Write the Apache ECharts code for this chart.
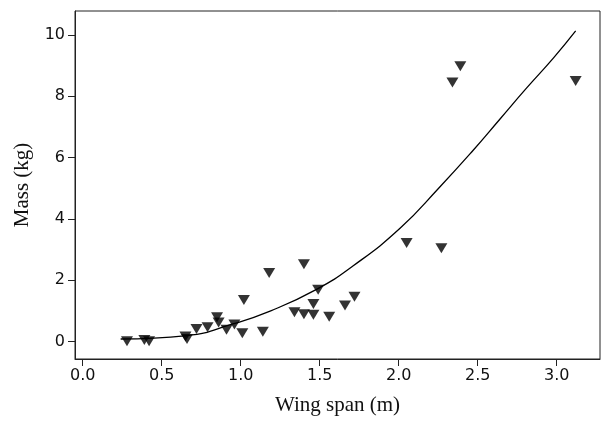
<!DOCTYPE html>
<html>
<head>
<meta charset="utf-8">
<script src="https://cdn.jsdelivr.net/npm/echarts@6/dist/echarts.min.js"></script>
<style>
  html, body { margin: 0; padding: 0; background: #fff; }
  #chart { width: 601px; height: 421px; }
</style>
</head>
<body>
<div id="chart"></div>
<script>
// 观测点
const wingSpan = [0.28, 0.39, 0.42, 0.65, 0.66, 0.72, 0.79, 0.85, 0.86, 0.91, 0.96, 1.01, 1.02, 1.14, 1.18,
                  1.34, 1.40, 1.40, 1.46, 1.46, 1.49, 1.56, 1.66, 1.72, 2.05, 2.27, 2.34, 2.39, 3.12];
const mass = [0.01, 0.05, 0.01, 0.16, 0.08, 0.41, 0.46, 0.79, 0.62, 0.38, 0.55, 0.27, 1.35, 0.32, 2.23,
              0.95, 2.52, 0.89, 1.22, 0.87, 1.69, 0.81, 1.17, 1.46, 3.21, 3.04, 8.45, 8.98, 8.50];

// 拟合曲线
const curveX = [0.24, 0.66, 0.95, 1.19, 1.48, 1.71, 2.01, 2.26, 2.47, 2.64, 2.81, 2.98, 3.12];
const curveY = [0.08, 0.19, 0.57, 1.00, 1.70, 2.46, 3.70, 5.04, 6.23, 7.25, 8.27, 9.25, 10.13];

// 刻度
const xTicks = [0, 0.5, 1.0, 1.5, 2.0, 2.5, 3.0];
const yTicks = [0, 2, 4, 6, 8, 10];

const chart = echarts.init(document.getElementById('chart'));

const labelStyle = {
    color: '#111',
    fontFamily: 'DejaVu Sans',
    fontSize: 16
};
const nameStyle = {
    color: '#111',
    fontFamily: 'Liberation Serif',
    fontSize: 21
};

chart.setOption({
    animation: false,
    grid: {
        left: 75, right: 1, top: 11, bottom: 59,
        show: true,
        borderColor: '#222',
        borderWidth: 1
    },
    xAxis: {
        type: 'value',
        min: -0.049,
        max: 3.274,
        name: 'Wing span (m)',
        nameLocation: 'middle',
        nameGap: 36,
        nameTextStyle: nameStyle,
        axisLine: { show: true, onZero: false, lineStyle: { color: '#222' } },
        axisTick: { show: true, length: 7, customValues: xTicks, lineStyle: { color: '#222' } },
        axisLabel: Object.assign({
            margin: 9,
            customValues: xTicks,
            formatter: v => v.toFixed(1)
        }, labelStyle),
        splitLine: { show: false }
    },
    yAxis: {
        type: 'value',
        min: -0.572,
        max: 10.78,
        name: 'Mass (kg)',
        nameLocation: 'middle',
        nameGap: 42,
        nameTextStyle: nameStyle,
        axisLine: { show: true, onZero: false, lineStyle: { color: '#222' } },
        axisTick: { show: true, length: 7, customValues: yTicks, lineStyle: { color: '#222' } },
        axisLabel: Object.assign({
            margin: 10,
            customValues: yTicks
        }, labelStyle),
        splitLine: { show: false }
    },
    series: [
        {
            type: 'line',
            data: curveX.map((x, i) => [x, curveY[i]]),
            smooth: 0.5,
            showSymbol: false,
            lineStyle: { color: '#000', width: 1.3 }
        },
        {
            type: 'scatter',
            data: wingSpan.map((x, i) => [x, mass[i]]),
            symbol: 'triangle',
            symbolRotate: 180,
            symbolSize: [12, 10],
            itemStyle: { color: '#000' }
        }
    ]
});
</script>
</body>
</html>
